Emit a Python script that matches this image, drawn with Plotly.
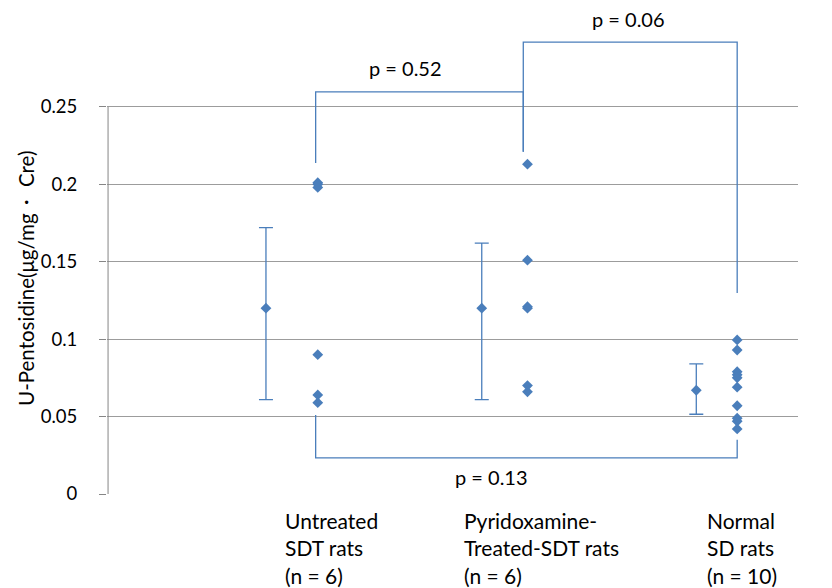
import plotly.graph_objects as go

# ---- data ----
group_x = [1, 2, 3]
group_labels = [["Untreated", "SDT rats", "(n = 6)"],
                ["Pyridoxamine-", "Treated-SDT rats", "(n = 6)"],
                ["Normal", "SD rats", "(n = 10)"]]
untreated = [0.201, 0.198, 0.200, 0.090, 0.064, 0.059]
pyridoxamine = [0.213, 0.151, 0.121, 0.120, 0.070, 0.066]
normal = [0.0995, 0.093, 0.079, 0.077, 0.075, 0.069, 0.057, 0.049, 0.047, 0.042]

mean_x = [0.753, 1.782, 2.805]
mean_y = [0.120, 0.120, 0.067]
err_plus = [0.052, 0.042, 0.017]
err_minus = [0.059, 0.059, 0.0155]

y_ticks = [0, 0.05, 0.1, 0.15, 0.2, 0.25]
y_ticktext = ["0", "0.05", "0.1", "0.15", "0.2", "0.25"]

# brackets: (x path, y path, label, label x, label y)
brackets = [
    ([0.99, 0.99, 1.98, 1.98], [0.2138, 0.2597, 0.2597, 0.221], "p = 0.52", 1.42, 0.275),
    ([1.98, 1.98, 3.0, 3.0], [0.221, 0.2918, 0.2918, 0.1298], "p = 0.06", 2.48, 0.307),
    ([0.99, 0.99, 3.0, 3.0], [0.051, 0.0233, 0.0233, 0.035], "p = 0.13", 1.83, 0.011),
]

BLUE = "#4a7ebb"
FONT = "Lato"

fig = go.Figure()

for gx, vals in zip(group_x, [untreated, pyridoxamine, normal]):
    fig.add_trace(go.Scatter(
        x=[gx] * len(vals), y=vals, mode="markers",
        marker=dict(symbol="diamond", size=8.3, color=BLUE),
        showlegend=False, hoverinfo="y"))

fig.add_trace(go.Scatter(
    x=mean_x, y=mean_y, mode="markers",
    marker=dict(symbol="diamond", size=8.3, color=BLUE),
    error_y=dict(type="data", symmetric=False, array=err_plus, arrayminus=err_minus,
                 color=BLUE, thickness=1.3, width=7),
    showlegend=False, hoverinfo="y"))

shapes = []
annotations = []
for bx, by, lab, lx, ly in brackets:
    path = "M{},{} L{},{} L{},{} L{},{}".format(bx[0], by[0], bx[1], by[1], bx[2], by[2], bx[3], by[3])
    shapes.append(dict(type="path", path=path, xref="x", yref="y",
                       line=dict(color=BLUE, width=1.3)))
    annotations.append(dict(x=lx, y=ly, xref="x", yref="y", text=lab, showarrow=False,
                            font=dict(family=FONT, size=20, color="#000000")))

# left axis line (only across tick range)
shapes.append(dict(type="line", xref="x", yref="y", x0=0, x1=0, y0=0, y1=max(y_ticks),
                   line=dict(color="#868686", width=1)))

label_shift = [-35, -65, -32]
line_offsets = [-26, -53.5, -81]
for gx, lines, sh in zip(group_x, group_labels, label_shift):
    for line, dy in zip(lines, line_offsets):
        annotations.append(dict(x=gx, y=0, xref="x", yref="paper", text=line, showarrow=False,
                                xanchor="left", yanchor="middle", xshift=sh, yshift=dy,
                                font=dict(family=FONT, size=21, color="#000000")))

annotations.append(dict(x=-0.117, y=0.139, xref="paper", yref="y",
                        text="U-Pentosidine(μg/mg・ Cre)", textangle=-90, showarrow=False,
                        xanchor="center", yanchor="middle",
                        font=dict(family=FONT, size=20.5, color="#000000")))

fig.update_layout(
    width=824, height=580,
    margin=dict(l=99, r=34, t=6, b=94),
    paper_bgcolor="white", plot_bgcolor="white",
    font=dict(family=FONT, size=19, color="#000000"),
    shapes=shapes, annotations=annotations,
    xaxis=dict(range=[-0.005, 3.29], showgrid=False, zeroline=False,
               showticklabels=False, showline=False, ticks=""),
    yaxis=dict(range=[0, 0.31], tickvals=y_ticks, ticktext=y_ticktext,
               showgrid=True, gridcolor="#9c9c9c", gridwidth=1,
               zeroline=False, showline=False, ticks="outside", ticklen=7,
               tickcolor="#868686", ticklabelstandoff=18,
               tickfont=dict(family=FONT, size=18.5, color="#000000")),
)

fig.write_html("out.html")
